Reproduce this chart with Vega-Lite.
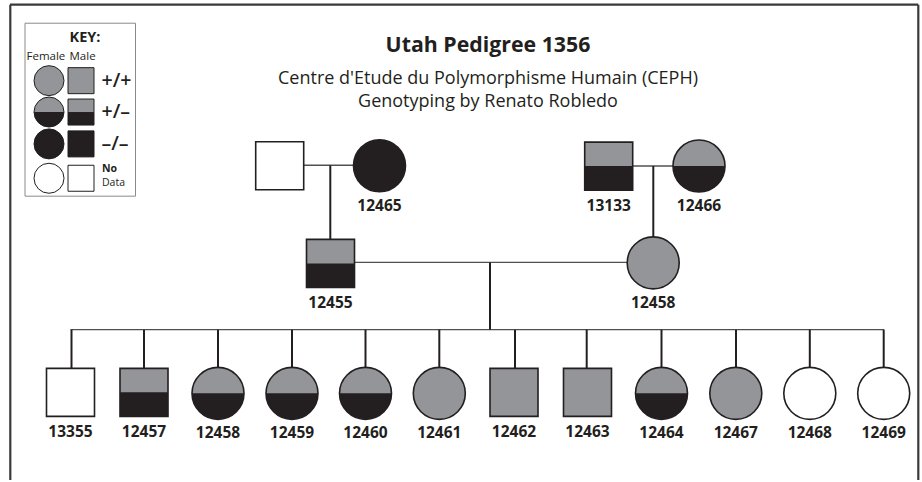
{
  "$schema": "https://vega.github.io/schema/vega-lite/v6.json",
  "width": 922,
  "height": 482,
  "padding": 0,
  "autosize": {"type": "fit", "contains": "padding"},
  "background": "#ffffff",
  "config": {"view": {"stroke": null}, "text": {"font": "Open Sans"}},
  "datasets": {
    "people": [
      {"id": "12454", "label": "", "x": 279.7, "y": 166.5, "sex": "M", "geno": "no data"},
      {"id": "12465", "label": "12465", "x": 379.5, "y": 166.5, "sex": "F", "geno": "–/–"},
      {"id": "13133", "label": "13133", "x": 608.7, "y": 166.8, "sex": "M", "geno": "+/–"},
      {"id": "12466", "label": "12466", "x": 699, "y": 166.7, "sex": "F", "geno": "+/–"},
      {"id": "12455", "label": "12455", "x": 330.5, "y": 264.5, "sex": "M", "geno": "+/–"},
      {"id": "12458m", "label": "12458", "x": 653.2, "y": 264, "sex": "F", "geno": "+/+"},
      {"id": "13355", "label": "13355", "x": 70.5, "y": 394, "sex": "M", "geno": "no data"},
      {"id": "12457", "label": "12457", "x": 144, "y": 394, "sex": "M", "geno": "+/–"},
      {"id": "12458", "label": "12458", "x": 218, "y": 395, "sex": "F", "geno": "+/–"},
      {"id": "12459", "label": "12459", "x": 292, "y": 395, "sex": "F", "geno": "+/–"},
      {"id": "12460", "label": "12460", "x": 365.5, "y": 395, "sex": "F", "geno": "+/–"},
      {"id": "12461", "label": "12461", "x": 439.3, "y": 395, "sex": "F", "geno": "+/+"},
      {"id": "12462", "label": "12462", "x": 514, "y": 394, "sex": "M", "geno": "+/+"},
      {"id": "12463", "label": "12463", "x": 587.5, "y": 394, "sex": "M", "geno": "+/+"},
      {"id": "12464", "label": "12464", "x": 661.5, "y": 395, "sex": "F", "geno": "+/–"},
      {"id": "12467", "label": "12467", "x": 735.8, "y": 395, "sex": "F", "geno": "+/+"},
      {"id": "12468", "label": "12468", "x": 809.8, "y": 395, "sex": "F", "geno": "no data"},
      {"id": "12469", "label": "12469", "x": 883.7, "y": 395, "sex": "F", "geno": "no data"}
    ],
    "key": [
      {"x": 49, "y": 81, "sex": "F", "geno": "+/+"},
      {"x": 81, "y": 81, "sex": "M", "geno": "+/+"},
      {"x": 49, "y": 112.5, "sex": "F", "geno": "+/–"},
      {"x": 81, "y": 112.5, "sex": "M", "geno": "+/–"},
      {"x": 49, "y": 144.5, "sex": "F", "geno": "–/–"},
      {"x": 81, "y": 144.5, "sex": "M", "geno": "–/–"},
      {"x": 49, "y": 179, "sex": "F", "geno": "no data"},
      {"x": 81, "y": 179, "sex": "M", "geno": "no data"}
    ],
    "hlinks": [
      {"x": 303.5, "y": 166, "x2": 353, "y2": 166},
      {"x": 633, "y": 166.7, "x2": 673, "y2": 166.7},
      {"x": 354.5, "y": 263.5, "x2": 627, "y2": 263.5},
      {"x": 70.5, "y": 331, "x2": 884, "y2": 331}
    ],
    "vlinks": [
      {"x": 330.3, "y": 166, "x2": 330.3, "y2": 241},
      {"x": 653.3, "y": 166.7, "x2": 653.3, "y2": 238},
      {"x": 490, "y": 263.5, "x2": 490, "y2": 331},
      {"x": 71.5, "y": 331, "x2": 71.5, "y2": 370},
      {"x": 144, "y": 331, "x2": 144, "y2": 370},
      {"x": 218, "y": 331, "x2": 218, "y2": 369},
      {"x": 292, "y": 331, "x2": 292, "y2": 369},
      {"x": 365.5, "y": 331, "x2": 365.5, "y2": 369},
      {"x": 439.3, "y": 331, "x2": 439.3, "y2": 369},
      {"x": 515, "y": 331, "x2": 515, "y2": 370},
      {"x": 586.7, "y": 331, "x2": 586.7, "y2": 370},
      {"x": 661.5, "y": 331, "x2": 661.5, "y2": 369},
      {"x": 736, "y": 331, "x2": 736, "y2": 369},
      {"x": 809.8, "y": 331, "x2": 809.8, "y2": 369},
      {"x": 883.7, "y": 331, "x2": 883.7, "y2": 369}
    ],
    "frame": [
      {"x": 10, "y": 4.7, "x2": 918.3, "y2": 4.7},
      {"x": 10.3, "y": 4.7, "x2": 10.3, "y2": 482},
      {"x": 918.3, "y": 4.7, "x2": 918.3, "y2": 482}
    ],
    "keybox": [{"x": 25, "y": 23.3, "x2": 135.5, "y2": 197}],
    "texts": [
      {"role": "title", "text": "Utah Pedigree 1356", "x": 488, "y": 46.5},
      {"role": "sub", "text": "Centre d'Etude du Polymorphisme Humain (CEPH)", "x": 488, "y": 79},
      {"role": "sub", "text": "Genotyping by Renato Robledo", "x": 488, "y": 102},
      {"role": "keytitle", "text": "KEY:", "x": 85, "y": 38},
      {"role": "keysex", "text": "Female", "x": 26.5, "y": 57},
      {"role": "keysex", "text": "Male", "x": 69.5, "y": 57},
      {"role": "keygeno", "text": "+/+", "x": 101.5, "y": 81},
      {"role": "keygeno", "text": "+/–", "x": 101.5, "y": 112.5},
      {"role": "keygeno", "text": "–/–", "x": 101.5, "y": 144.5},
      {"role": "keyno", "text": "No", "x": 102, "y": 170},
      {"role": "keydata", "text": "Data", "x": 102, "y": 183.5}
    ]
  },
  "encoding": {
    "x": {"field": "x", "type": "quantitative", "axis": null, "scale": {"domain": [0, 922], "nice": false, "zero": false}},
    "y": {"field": "y", "type": "quantitative", "axis": null, "scale": {"domain": [0, 482], "nice": false, "zero": false, "reverse": true}}
  },
  "layer": [
    {
      "data": {"name": "keybox"},
      "mark": {"type": "rect", "fill": "#ffffff", "stroke": "#8a8a8c", "strokeWidth": 1},
      "encoding": {"x2": {"field": "x2"}, "y2": {"field": "y2"}}
    },
    {
      "data": {"name": "frame"},
      "mark": {"type": "rule", "stroke": "#3a3a3c", "strokeWidth": 2.2},
      "encoding": {"x2": {"field": "x2"}, "y2": {"field": "y2"}}
    },
    {
      "data": {"name": "hlinks"},
      "mark": {"type": "rule", "stroke": "#505052", "strokeWidth": 1.4},
      "encoding": {"x2": {"field": "x2"}, "y2": {"field": "y2"}}
    },
    {
      "data": {"name": "vlinks"},
      "mark": {"type": "rule", "stroke": "#231f20", "strokeWidth": 2},
      "encoding": {"x2": {"field": "x2"}, "y2": {"field": "y2"}}
    },
    {
      "data": {"name": "people"},
      "transform": [{"filter": "datum.sex == 'F'"}],
      "mark": {"type": "point", "shape": "circle", "filled": true, "size": 2704, "stroke": "#231f20", "strokeWidth": 1.6, "opacity": 1},
      "encoding": {
        "fill": {"field": "geno", "type": "nominal", "legend": null,
          "scale": {"domain": ["+/+", "+/–", "–/–", "no data"], "range": ["#939598", "#939598", "#231f20", "#ffffff"]}}
      }
    },
    {
      "data": {"name": "people"},
      "transform": [{"filter": "datum.sex == 'M'"}],
      "mark": {"type": "point", "shape": "square", "filled": true, "size": 2304, "stroke": "#231f20", "strokeWidth": 1.6, "opacity": 1},
      "encoding": {
        "fill": {"field": "geno", "type": "nominal", "legend": null,
          "scale": {"domain": ["+/+", "+/–", "–/–", "no data"], "range": ["#939598", "#939598", "#231f20", "#ffffff"]}}
      }
    },
    {
      "data": {"name": "people"},
      "transform": [{"filter": "datum.sex == 'F' && datum.geno == '+/–'"}],
      "mark": {"type": "point", "shape": "M-1,0A1,1,0,0,0,1,0Z", "filled": true, "size": 2704, "fill": "#231f20", "strokeWidth": 0, "opacity": 1}
    },
    {
      "data": {"name": "people"},
      "transform": [{"filter": "datum.sex == 'M' && datum.geno == '+/–'"}],
      "mark": {"type": "point", "shape": "M-1,0L1,0L1,1L-1,1Z", "filled": true, "size": 2304, "fill": "#231f20", "strokeWidth": 0, "opacity": 1}
    },
    {
      "data": {"name": "key"},
      "transform": [{"filter": "datum.sex == 'F'"}],
      "mark": {"type": "point", "shape": "circle", "filled": true, "size": 900, "stroke": "#231f20", "strokeWidth": 1, "opacity": 1},
      "encoding": {
        "fill": {"field": "geno", "type": "nominal", "legend": null,
          "scale": {"domain": ["+/+", "+/–", "–/–", "no data"], "range": ["#939598", "#939598", "#231f20", "#ffffff"]}}
      }
    },
    {
      "data": {"name": "key"},
      "transform": [{"filter": "datum.sex == 'M'"}],
      "mark": {"type": "point", "shape": "square", "filled": true, "size": 676, "stroke": "#231f20", "strokeWidth": 1, "opacity": 1},
      "encoding": {
        "fill": {"field": "geno", "type": "nominal", "legend": null,
          "scale": {"domain": ["+/+", "+/–", "–/–", "no data"], "range": ["#939598", "#939598", "#231f20", "#ffffff"]}}
      }
    },
    {
      "data": {"name": "key"},
      "transform": [{"filter": "datum.sex == 'F' && datum.geno == '+/–'"}],
      "mark": {"type": "point", "shape": "M-1,0A1,1,0,0,0,1,0Z", "filled": true, "size": 900, "fill": "#231f20", "strokeWidth": 0, "opacity": 1}
    },
    {
      "data": {"name": "key"},
      "transform": [{"filter": "datum.sex == 'M' && datum.geno == '+/–'"}],
      "mark": {"type": "point", "shape": "M-1,0L1,0L1,1L-1,1Z", "filled": true, "size": 676, "fill": "#231f20", "strokeWidth": 0, "opacity": 1}
    },
    {
      "data": {"name": "people"},
      "transform": [{"filter": "datum.label != ''"}],
      "mark": {"type": "text", "fontWeight": "bold", "fontSize": 15.5, "dy": 40, "align": "center", "baseline": "middle", "fill": "#231f20"},
      "encoding": {"text": {"field": "label"}}
    },
    {
      "data": {"name": "texts"},
      "transform": [{"filter": "datum.role == 'title'"}],
      "mark": {"type": "text", "fontWeight": "bold", "fontSize": 21.3, "align": "center", "baseline": "middle", "fill": "#231f20"},
      "encoding": {"text": {"field": "text"}}
    },
    {
      "data": {"name": "texts"},
      "transform": [{"filter": "datum.role == 'sub'"}],
      "mark": {"type": "text", "fontSize": 18, "align": "center", "baseline": "middle", "fill": "#231f20"},
      "encoding": {"text": {"field": "text"}}
    },
    {
      "data": {"name": "texts"},
      "transform": [{"filter": "datum.role == 'keytitle'"}],
      "mark": {"type": "text", "fontWeight": "bold", "fontSize": 14.5, "align": "center", "baseline": "middle", "fill": "#231f20"},
      "encoding": {"text": {"field": "text"}}
    },
    {
      "data": {"name": "texts"},
      "transform": [{"filter": "datum.role == 'keysex'"}],
      "mark": {"type": "text", "fontSize": 11.5, "align": "left", "baseline": "middle", "fill": "#231f20"},
      "encoding": {"text": {"field": "text"}}
    },
    {
      "data": {"name": "texts"},
      "transform": [{"filter": "datum.role == 'keygeno'"}],
      "mark": {"type": "text", "fontWeight": 600, "fontSize": 19.5, "align": "left", "baseline": "middle", "fill": "#231f20"},
      "encoding": {"text": {"field": "text"}}
    },
    {
      "data": {"name": "texts"},
      "transform": [{"filter": "datum.role == 'keyno'"}],
      "mark": {"type": "text", "fontWeight": "bold", "fontSize": 10.5, "align": "left", "baseline": "middle", "fill": "#231f20"},
      "encoding": {"text": {"field": "text"}}
    },
    {
      "data": {"name": "texts"},
      "transform": [{"filter": "datum.role == 'keydata'"}],
      "mark": {"type": "text", "fontSize": 10.5, "align": "left", "baseline": "middle", "fill": "#231f20"},
      "encoding": {"text": {"field": "text"}}
    }
  ]
}
